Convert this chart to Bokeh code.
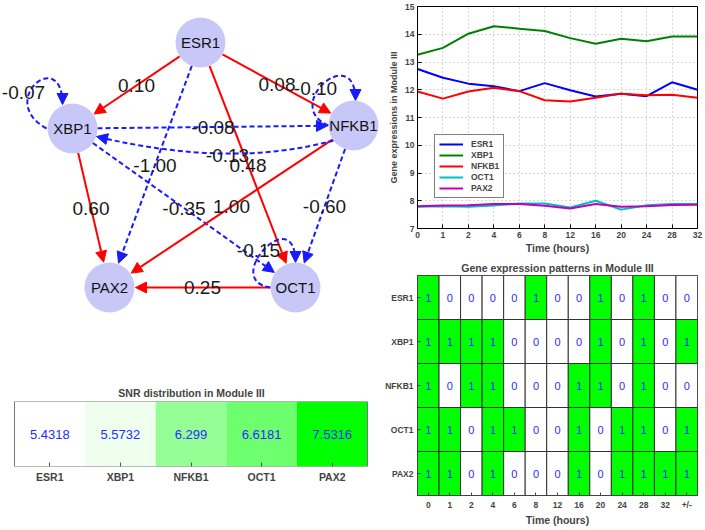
import math
from bokeh.plotting import figure
from bokeh.models import (Range1d, FactorRange, Arrow, NormalHead, Legend, LegendItem,
                          FixedTicker, LinearColorMapper, ColumnDataSource)
from bokeh.layouts import row, column
from bokeh.transform import transform
from bokeh.core.properties import value
from bokeh.embed import file_html
from bokeh.resources import INLINE

FONT = "Liberation Sans"
RED = "#ff0000"
BLUE = "#1a1aff"
NODE_FILL = "#c8c8f8"
CELL_TEXT = "#2a2aff"

# ---------------- data ----------------
genes = ["ESR1", "XBP1", "NFKB1", "OCT1", "PAX2"]
time_labels = ["0", "1", "2", "4", "6", "8", "12", "16", "20", "24", "28", "32"]

expr_esr1 = [12.75, 12.43, 12.22, 12.13, 11.95, 12.24, 11.98, 11.76, 11.86, 11.77, 12.27, 12.00]
expr_xbp1 = [13.26, 13.51, 14.02, 14.29, 14.20, 14.12, 13.86, 13.66, 13.84, 13.75, 13.92, 13.92]
expr_nfkb1 = [11.94, 11.68, 11.94, 12.07, 11.95, 11.62, 11.58, 11.71, 11.86, 11.80, 11.82, 11.71]
expr_oct1 = [7.78, 7.80, 7.78, 7.83, 7.90, 7.90, 7.76, 8.00, 7.68, 7.84, 7.88, 7.88]
expr_pax2 = [7.80, 7.83, 7.84, 7.88, 7.88, 7.82, 7.72, 7.88, 7.78, 7.80, 7.85, 7.86]
line_colors = ["#0000ff", "#008000", "#ff0000", "#00bfbf", "#bf00bf"]

pattern_cols = time_labels + ["+/-"]
pat_esr1 = [1, 0, 0, 0, 0, 1, 0, 0, 1, 0, 1, 0, 0]
pat_xbp1 = [1, 1, 1, 1, 0, 0, 0, 0, 1, 0, 1, 0, 1]
pat_nfkb1 = [1, 0, 1, 1, 0, 0, 0, 1, 1, 0, 1, 0, 0]
pat_oct1 = [1, 1, 0, 1, 1, 0, 0, 1, 0, 1, 1, 0, 1]
pat_pax2 = [1, 1, 0, 1, 0, 0, 0, 1, 0, 1, 1, 1, 1]

snr_values = [5.4318, 5.5732, 6.299, 6.6181, 7.5316]

net_nodes = ["ESR1", "XBP1", "NFKB1", "PAX2", "OCT1"]
net_x = [200, 72, 353, 109, 295]
net_y = [42, 128, 125, 287, 287]
edge_src = ["ESR1", "ESR1", "ESR1", "ESR1", "XBP1", "XBP1", "XBP1", "NFKB1", "NFKB1", "OCT1"]
edge_dst = ["XBP1", "NFKB1", "OCT1", "PAX2", "NFKB1", "PAX2", "OCT1", "PAX2", "OCT1", "PAX2"]
edge_w = [0.10, 0.08, 0.48, -1.00, -0.08, 0.60, -0.35, 1.00, -0.60, 0.25]
back_src, back_dst, back_w = "NFKB1", "XBP1", -0.13
loop_nodes = ["XBP1", "NFKB1", "OCT1"]
loop_w = [-0.07, -0.10, -0.15]

# ---------------- network ----------------
R = 25
NET_W, NET_H = 382, 360
pos = dict(zip(net_nodes, zip(net_x, net_y)))
net = figure(width=NET_W, height=NET_H, x_range=Range1d(0, NET_W), y_range=Range1d(NET_H, 0),
             x_axis_type=None, y_axis_type=None, output_backend="svg", toolbar_location=None,
             min_border=0, min_border_left=0, min_border_right=0, min_border_top=0,
             min_border_bottom=0, outline_line_color=None, title=None)


def head(xe, ye, dx, dy, col):
    L = math.hypot(dx, dy)
    net.add_layout(Arrow(end=NormalHead(size=11, fill_color=col, line_color=col, line_width=1),
                         x_start=xe - dx / L * 6, y_start=ye - dy / L * 6, x_end=xe, y_end=ye,
                         line_alpha=0, level="underlay"))


lab_x, lab_y, lab_t = [], [], []
for s, d, w in zip(edge_src, edge_dst, edge_w):
    (x0, y0), (x1, y1) = pos[s], pos[d]
    dx, dy = x1 - x0, y1 - y0
    L = math.hypot(dx, dy)
    ux, uy = dx / L, dy / L
    col = RED if w > 0 else BLUE
    dash = "solid" if w > 0 else "5 3"
    net.add_layout(Arrow(end=NormalHead(size=11, fill_color=col, line_color=col, line_width=1),
                         x_start=x0 + ux * R, y_start=y0 + uy * R,
                         x_end=x1 - ux * (R + 1), y_end=y1 - uy * (R + 1),
                         line_color=col, line_width=2, line_dash=dash, level="underlay"))
    lab_x.append((x0 + x1) / 2)
    lab_y.append((y0 + y1) / 2)
    lab_t.append(f"{w:.2f}")

# curved back edge NFKB1 -> XBP1
(bx0, by0), (bx1, by1) = pos[back_src], pos[back_dst]
p0 = (bx0 - 20, by0 + 15)
p2 = (bx1 + 24, by1 + 8)
cc = (229.5, 168)
net.quadratic(x0=[p0[0]], y0=[p0[1]], x1=[p2[0]], y1=[p2[1]], cx=[cc[0]], cy=[cc[1]],
              line_color=BLUE, line_width=2, line_dash="5 3")
head(p2[0], p2[1], p2[0] - cc[0], p2[1] - cc[1], BLUE)
lab_x.append(227)
lab_y.append(155)
lab_t.append(f"{back_w:.2f}")

# self loops
loop_geom = {
    "XBP1": [(-26, 0), (-77, -28), (-10, -83), (-10, -24)],
    "NFKB1": [(-25, 0), (-73, -20), (2, -85), (2, -25)],
    "OCT1": [(-25, 0), (-75, -7), (0, -87), (0, -25)],
}
loop_lab = {"XBP1": (-49, -36), "NFKB1": (-38, -37), "OCT1": (-37, -37)}
for n, w in zip(loop_nodes, loop_w):
    cx0, cy0 = pos[n]
    g = [(cx0 + a, cy0 + b) for a, b in loop_geom[n]]
    net.bezier(x0=[g[0][0]], y0=[g[0][1]], x1=[g[3][0]], y1=[g[3][1]],
               cx0=[g[1][0]], cy0=[g[1][1]], cx1=[g[2][0]], cy1=[g[2][1]],
               line_color=BLUE, line_width=2, line_dash="5 3")
    head(g[3][0], g[3][1], g[3][0] - g[2][0], g[3][1] - g[2][1], BLUE)
    lab_x.append(cx0 + loop_lab[n][0])
    lab_y.append(cy0 + loop_lab[n][1])
    lab_t.append(f"{w:.2f}")

net.circle(x=net_x, y=net_y, radius=R, fill_color=NODE_FILL, line_color=None)
net.text(x=net_x, y=net_y, text=net_nodes, text_font=value(FONT), text_font_size="15px",
         text_align="center", text_baseline="middle", text_color="#111111")
net.text(x=lab_x, y=lab_y, text=lab_t, text_font=value(FONT), text_font_size="19px",
         text_align="center", text_baseline="middle", text_color="#1a1a1a")

# ---------------- SNR strip ----------------
pal = ["#%02xff%02x" % (int(255 * (1 - i / 63)), int(255 * (1 - i / 63))) for i in range(64)]
smap = LinearColorMapper(palette=pal, low=min(snr_values), high=max(snr_values))
n_snr = len(genes)
sx = list(range(n_snr))
ssrc = ColumnDataSource(dict(x=sx, v=snr_values, y=[0.5] * n_snr,
                             t=[f"{v:.5g}" for v in snr_values]))
cell_px = 353 / n_snr
snr = figure(width=NET_W, height=168,
             x_range=Range1d(-0.5 - 14 / cell_px, n_snr - 0.5 + 15 / cell_px), y_range=Range1d(0, 1),
             y_axis_location=None, output_backend="svg", toolbar_location=None,
             title="SNR distribution in Module III",
             min_border_left=0, min_border_right=0, min_border_top=41, min_border_bottom=62)
snr.rect(x="x", y="y", width=1, height=1, source=ssrc, fill_color=transform("v", smap), line_color=None)
snr.rect(x=[(n_snr - 1) / 2], y=[0.5], width=n_snr, height=1, fill_color=None,
         line_color="#777777", line_width=1)
snr.text(x="x", y="y", text="t", source=ssrc, text_font=value(FONT), text_font_size="13px",
         text_align="center", text_baseline="middle", text_color=CELL_TEXT)
snr.grid.visible = False
snr.outline_line_color = None
snr.title.align = "center"
snr.title.text_font = FONT
snr.title.text_font_style = "bold"
snr.title.text_font_size = "10.5px"
snr.title.standoff = 6
snr.xaxis.ticker = FixedTicker(ticks=sx)
snr.xaxis.major_label_overrides = {i: g for i, g in enumerate(genes)}
snr.xaxis.major_label_text_font = FONT
snr.xaxis.major_label_text_font_style = "bold"
snr.xaxis.major_label_text_font_size = "10.5px"
snr.xaxis.major_tick_in = 4
snr.xaxis.major_tick_out = 0
snr.xaxis.minor_tick_in = 0
snr.xaxis.minor_tick_out = 0
snr.xaxis.major_label_standoff = 4
snr.xaxis.axis_line_color = None
snr.xaxis.major_tick_line_color = "#555555"

# ---------------- line chart ----------------
xs = list(range(len(time_labels)))
lc = figure(width=321, height=258, x_range=Range1d(0, len(time_labels) - 1), y_range=Range1d(7, 15),
            output_backend="svg", toolbar_location=None, title=None,
            min_border_left=31, min_border_right=6, min_border_top=6, min_border_bottom=30)
items = []
for name, vals, col in zip(genes, [expr_esr1, expr_xbp1, expr_nfkb1, expr_oct1, expr_pax2], line_colors):
    r = lc.line(xs, vals, line_color=col, line_width=2)
    items.append(LegendItem(label=name, renderers=[r]))
leg = Legend(items=items, location=(17, 30), glyph_width=24, glyph_height=10, label_height=10,
             spacing=1, padding=4, margin=0, label_standoff=8, label_text_font=FONT,
             label_text_font_style="bold", label_text_font_size="8.5px",
             border_line_color="black", border_line_width=1, background_fill_alpha=1)
lc.add_layout(leg)
lc.xaxis.ticker = FixedTicker(ticks=xs)
lc.xaxis.major_label_overrides = {i: t for i, t in enumerate(time_labels)}
lc.yaxis.ticker = FixedTicker(ticks=list(range(7, 16)))
lc.grid.grid_line_color = "#b0b0b0"
lc.grid.grid_line_dash = "1 3"
lc.outline_line_color = "black"
lc.xaxis.axis_label = "Time (hours)"
lc.yaxis.axis_label = "Gene expressions in Module III"
for ax in lc.axis:
    ax.major_label_text_font = FONT
    ax.major_label_text_font_style = "bold"
    ax.major_label_text_font_size = "8.5px"
    ax.axis_label_text_font = FONT
    ax.axis_label_text_font_style = "bold"
    ax.major_tick_in = 4
    ax.major_tick_out = 0
    ax.minor_tick_in = 0
    ax.minor_tick_out = 0
    ax.major_label_standoff = 3
    ax.axis_label_standoff = 3
    ax.axis_line_color = "black"
lc.xaxis.axis_label_text_font_size = "10.5px"
lc.yaxis.axis_label_text_font_size = "9px"
lc.xaxis.axis_label_standoff = 1

# ---------------- heat map ----------------
pats = [pat_esr1, pat_xbp1, pat_nfkb1, pat_oct1, pat_pax2]
hcol, hgene, hv, ht = [], [], [], []
for g, pr in zip(genes, pats):
    for c, v in zip(pattern_cols, pr):
        hcol.append(c)
        hgene.append(g)
        hv.append(v)
        ht.append(str(v))
hsrc = ColumnDataSource(dict(col=hcol, gene=hgene, v=hv, t=ht))
hm = figure(width=321, height=270, x_range=FactorRange(factors=pattern_cols),
            y_range=FactorRange(factors=genes[::-1]), output_backend="svg", toolbar_location=None,
            title="Gene expression patterns in Module III",
            min_border_left=31, min_border_right=6, min_border_top=17, min_border_bottom=26)
hmap = LinearColorMapper(palette=["#ffffff", "#00ff00"], low=0, high=1)
hm.rect(x="col", y="gene", width=1, height=1, source=hsrc, fill_color=transform("v", hmap),
        line_color="#333333", line_width=1)
hm.text(x="col", y="gene", text="t", source=hsrc, text_font=value(FONT), text_font_size="11px",
        text_align="center", text_baseline="middle", text_color=CELL_TEXT)
hm.grid.visible = False
hm.outline_line_color = "#444444"
hm.title.align = "center"
hm.title.text_font = FONT
hm.title.text_font_style = "bold"
hm.title.text_font_size = "10.5px"
hm.title.standoff = 3
hm.xaxis.axis_label = "Time (hours)"
for ax in hm.axis:
    ax.major_label_text_font = FONT
    ax.major_label_text_font_style = "bold"
    ax.major_label_text_font_size = "8.5px"
    ax.axis_label_text_font = FONT
    ax.axis_label_text_font_style = "bold"
    ax.axis_label_text_font_size = "10.5px"
    ax.major_tick_in = 3
    ax.major_tick_out = 0
    ax.major_label_standoff = 4
    ax.axis_label_standoff = 1
    ax.axis_line_color = "#444444"
    ax.major_tick_line_color = "#444444"

layout = row(column(net, snr), column(lc, hm))
open("out.html", "w").write(file_html(layout, INLINE))
